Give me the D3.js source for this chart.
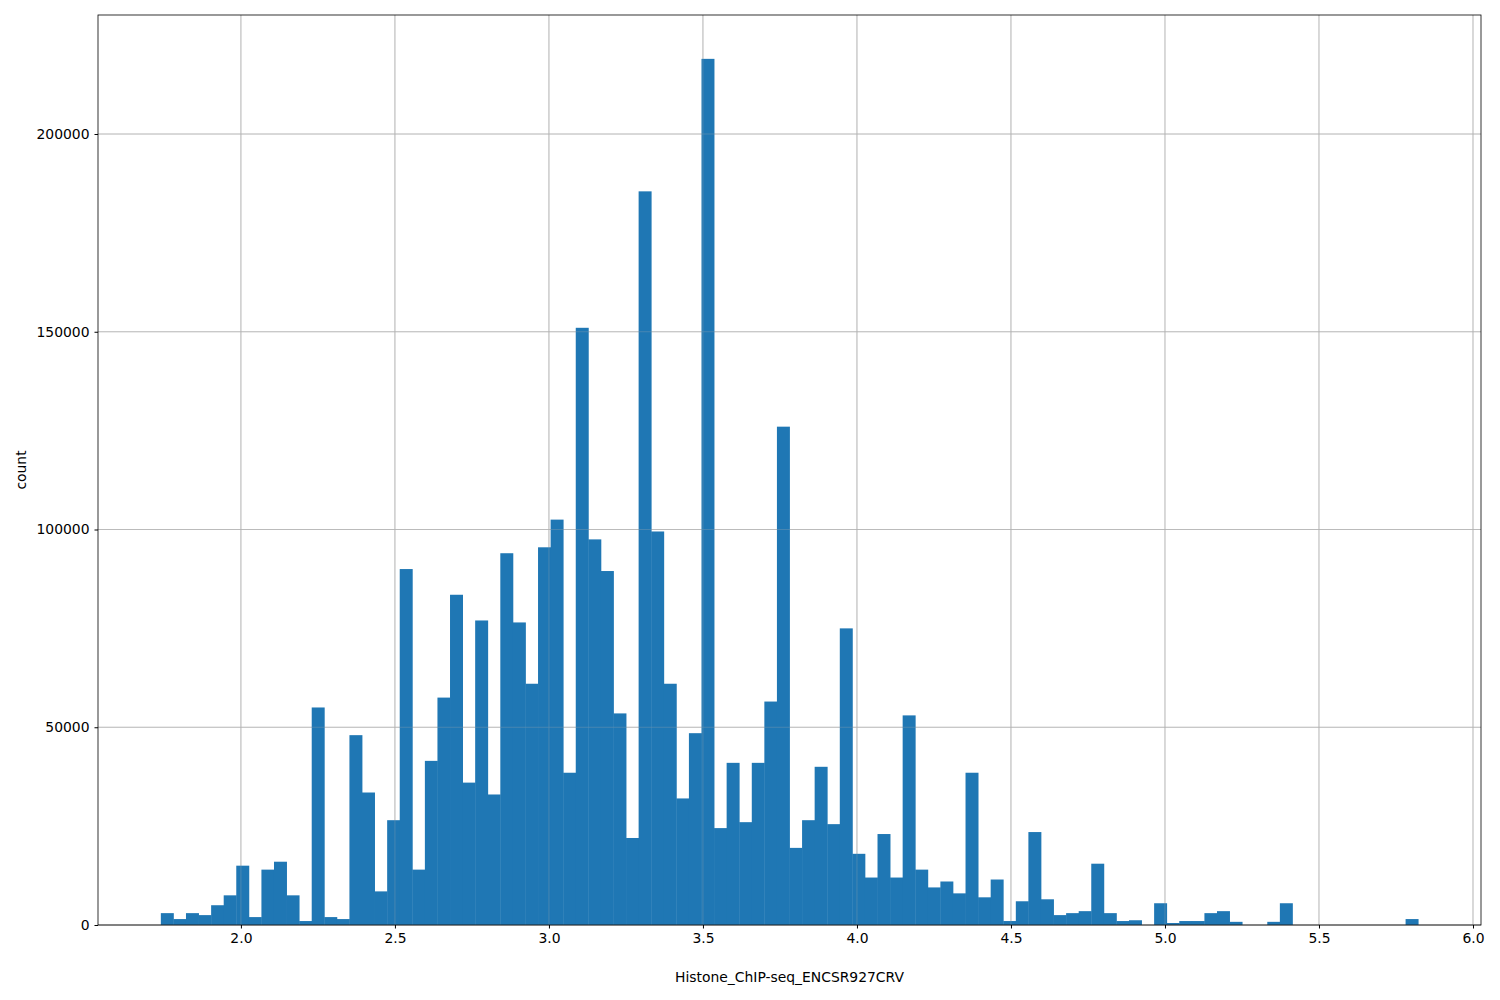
<!DOCTYPE html>
<html><head><meta charset="utf-8">
<script src="https://cdn.jsdelivr.net/npm/d3@7"></script>
<style>body{margin:0;background:#fff}text{font-family:"DejaVu Sans",sans-serif}</style>
</head><body><svg id="c" width="1500" height="1000"></svg>
<script>
const binStart = 1.740, binEnd = 5.822;
const counts = [3000,1500,3000,2500,5000,7500,15000,2000,14000,16000,
7500,1000,55000,2000,1500,48000,33500,8500,26500,90000,
14000,41500,57500,83500,36000,77000,33000,94000,76500,61000,
95500,102500,38500,151000,97500,89500,53500,22000,185500,99500,
61000,32000,48500,219000,24500,41000,26000,41000,56500,126000,
19500,26500,40000,25500,75000,18000,12000,23000,12000,53000,
14000,9500,11000,8000,38500,7000,11500,1000,6000,23500,
6500,2500,3000,3500,15500,3000,1000,1200,0,5500,
500,1000,1000,3000,3500,800,0,0,800,5500,
0,0,0,0,0,0,0,0,0,1500];
const xTicks = [2.0,2.5,3.0,3.5,4.0,4.5,5.0,5.5,6.0];
const yTicks = [0,50000,100000,150000,200000];
const xLabel = "Histone_ChIP-seq_ENCSR927CRV", yLabel = "count";

const svg = d3.select("#c");
const L=98,R=1481,T=15,B=925,FS=13.9;
const x = d3.scaleLinear().domain([1.536,6.026]).range([L,R]);
const y = d3.scaleLinear().domain([0,230089]).range([B,T]);
const w = (binEnd-binStart)/counts.length;
const grid = svg.append("g");
xTicks.forEach(t=>grid.append("line").attr("x1",x(t)).attr("x2",x(t)).attr("y1",T).attr("y2",B).attr("stroke","#b0b0b0").attr("stroke-width",0.8));
yTicks.forEach(t=>grid.append("line").attr("x1",L).attr("x2",R).attr("y1",y(t)).attr("y2",y(t)).attr("stroke","#b0b0b0").attr("stroke-width",0.8));
svg.append("g").selectAll("rect").data(counts).join("rect")
 .attr("x",(d,i)=>x(binStart+i*w)).attr("width",(d,i)=>x(binStart+(i+1)*w)-x(binStart+i*w)+0.4)
 .attr("y",d=>y(d)).attr("height",d=>B-y(d)).attr("fill","#1f77b4");
const g2 = svg.append("g").attr("opacity",0.35);
xTicks.forEach(t=>g2.append("line").attr("x1",x(t)).attr("x2",x(t)).attr("y1",T).attr("y2",B).attr("stroke","#b0b0b0").attr("stroke-width",0.8));
yTicks.forEach(t=>g2.append("line").attr("x1",L).attr("x2",R).attr("y1",y(t)).attr("y2",y(t)).attr("stroke","#b0b0b0").attr("stroke-width",0.8));
svg.append("g").attr("transform",`translate(0,${B})`).call(d3.axisBottom(x).tickValues(xTicks).tickFormat(d3.format(".1f")).tickSizeOuter(0).tickSize(3.5).tickPadding(5))
 .call(g=>{g.select(".domain").remove();g.selectAll("text").attr("font-size",FS).attr("fill","#000");});
svg.append("g").attr("transform",`translate(${L},0)`).call(d3.axisLeft(y).tickValues(yTicks).tickFormat(d3.format("d")).tickSizeOuter(0).tickSize(3.5).tickPadding(5))
 .call(g=>{g.select(".domain").remove();g.selectAll("text").attr("font-size",FS).attr("fill","#000");});
svg.append("rect").attr("x",L).attr("y",T).attr("width",R-L).attr("height",B-T).attr("fill","none").attr("stroke","#000").attr("stroke-width",0.8);
svg.append("text").attr("x",(L+R)/2).attr("y",982).attr("text-anchor","middle").attr("font-size",FS).text(xLabel);
svg.append("text").attr("transform",`translate(26,${(T+B)/2}) rotate(-90)`).attr("text-anchor","middle").attr("font-size",FS).text(yLabel);
</script></body></html>
